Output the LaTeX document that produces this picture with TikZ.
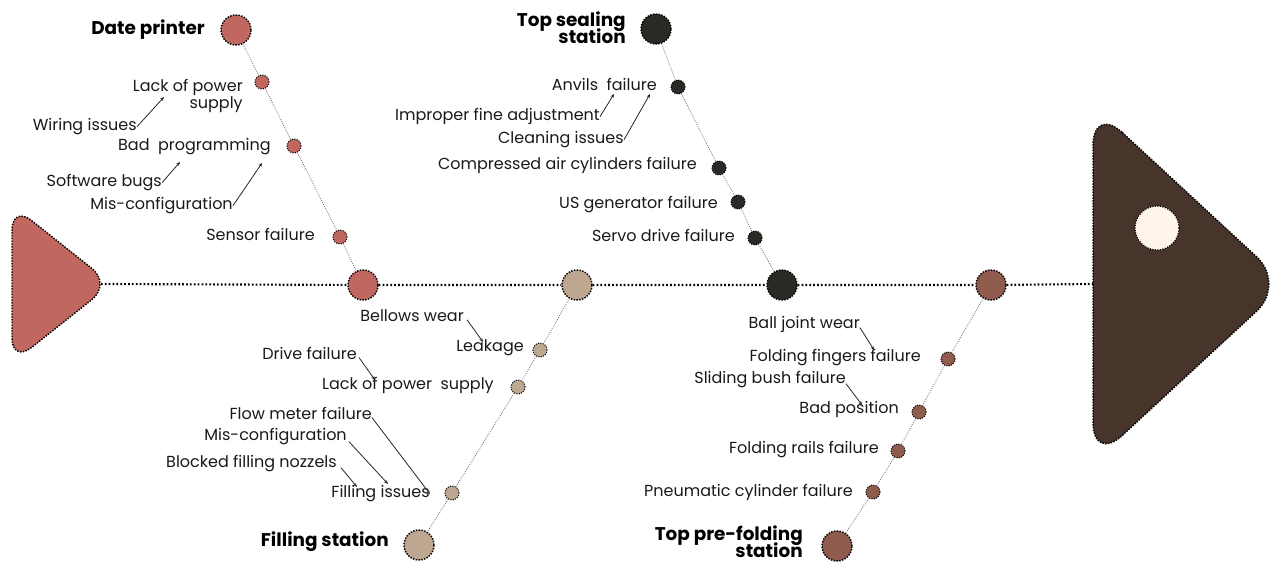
\documentclass[tikz,border=0pt]{standalone}
\usepackage{fontspec}
\setmainfont{Poppins}
\usetikzlibrary{arrows.meta}
\definecolor{rose}{HTML}{C06860}
\definecolor{sand}{HTML}{BEA791}
\definecolor{coal}{HTML}{2A2925}
\definecolor{rust}{HTML}{8E5B4D}
\definecolor{cocoa}{HTML}{47342B}
\definecolor{cream}{HTML}{FFF5EB}
\begin{document}
\begin{tikzpicture}[x=0.75pt,y=-0.75pt,
  big/.style={circle,minimum size=22.5pt,inner sep=0pt,draw=black,line width=1.1pt,densely dotted},
  small/.style={circle,minimum size=10.5pt,inner sep=0pt,draw=black,line width=0.8pt,densely dotted},
  spine/.style={draw=black,line width=1.6pt,dash pattern=on 1.3pt off 1.6pt},
  branch/.style={draw=black!60,line width=0.6pt,densely dotted},
  lbl/.style={font=\fontsize{12}{13}\selectfont,inner sep=0pt,anchor=mid east,text=black!90},
  head/.style={font=\fontsize{13.8}{13.5}\selectfont\bfseries,inner sep=0pt,anchor=mid east,align=right},
  link/.style={draw=black!85,line width=0.6pt,-{Stealth[length=3pt,width=2.5pt]}},
  outline/.style={draw=black,line width=1.1pt,densely dotted}]
\useasboundingbox (0,0) rectangle (1273,563);

% tail and head of the fish
\fill[rose,rounded corners=18.75pt] (12,205) -- (111.5,284) -- (12,363) -- cycle;
\draw[outline,rounded corners=18.75pt] (12,205) -- (111.5,284) -- (12,363) -- cycle;
\fill[cocoa,rounded corners=30pt] (1093,105.5) -- (1286,284) -- (1093,462.5) -- cycle;
\draw[outline,rounded corners=30pt] (1093,105.5) -- (1286,284) -- (1093,462.5) -- cycle;
\node[circle,minimum size=33pt,inner sep=0pt,fill=cream,draw=black,line width=0.9pt,densely dotted] (eye) at (1157,228) {};
\coordinate (tailtip) at (101,284);
\coordinate (headback) at (1093,284);

% junctions on the spine
\node[big,fill=rose] (dpj) at (363,285) {};
\node[big,fill=sand] (fsj) at (577,285) {};
\node[big,fill=coal] (tsj) at (782,285) {};
\node[big,fill=rust] (pfj) at (991,285) {};
\draw[spine] (tailtip) -- (dpj) -- (fsj) -- (tsj) -- (pfj) -- (headback);

% category end points
\node[big,fill=rose] (dp) at (236,30) {};
\node[big,fill=coal] (ts) at (656,29) {};
\node[big,fill=sand] (fs) at (419,545) {};
\node[big,fill=rust] (pf) at (837,546) {};

% cause dots
\node[small,fill=rose] (dp1) at (262,82) {};
\node[small,fill=rose] (dp2) at (294,146) {};
\node[small,fill=rose] (dp3) at (340,237) {};
\node[small,fill=coal] (ts1) at (678,87) {};
\node[small,fill=coal] (ts2) at (719,168) {};
\node[small,fill=coal] (ts3) at (738,202) {};
\node[small,fill=coal] (ts4) at (755,238) {};
\node[small,fill=sand] (fs1) at (540,350) {};
\node[small,fill=sand] (fs2) at (518,387) {};
\node[small,fill=sand] (fs3) at (452,493) {};
\node[small,fill=rust] (pf1) at (948,359) {};
\node[small,fill=rust] (pf2) at (919,412) {};
\node[small,fill=rust] (pf3) at (898,451) {};
\node[small,fill=rust] (pf4) at (873,492) {};

% bones
\draw[branch] (dp) -- (dp1) -- (dp2) -- (dp3) -- (dpj);
\draw[branch] (ts) -- (ts1) -- (ts2) -- (ts3) -- (ts4) -- (tsj);
\draw[branch] (fsj) -- (fs1) -- (fs2) -- (fs3) -- (fs);
\draw[branch] (pfj) -- (pf1) -- (pf2) -- (pf3) -- (pf4) -- (pf);

% category titles (two-line ones use a tight line step)
\node[head] (tdp) at (205,31) {Date printer};
\node[head,anchor=east] (tts) at (626,28) {Top sealing\\[-3pt]station};
\node[head] (tfs) at (389,543) {Filling station};
\node[head,anchor=east] (tpf) at (803,542) {Top pre-folding\\[-3pt]station};

% Date printer causes
\node[lbl,align=right,anchor=east] (c1) at (243,96) {Lack of power\\supply};
\node[lbl] (c1a) at (137,127) {Wiring issues};
\node[lbl] (c2) at (271,147) {Bad\ \ programming};
\node[lbl] (c2a) at (162,183) {Software bugs};
\node[lbl] (c2b) at (233,206) {Mis-configuration};
\node[lbl] (c3) at (315,237) {Sensor failure};
\coordinate (a1) at (164,97);
\coordinate (a2) at (180,162);
\coordinate (a3) at (262,163);
\draw[link] (c1a.east) -- (a1);
\draw[link] (c2a.east) -- (a2);
\draw[link] (c2b.east) -- (a3);

% Top sealing causes
\node[lbl] (s1) at (657,87) {Anvils\ \ failure};
\node[lbl] (s1a) at (600,117) {Improper fine adjustment};
\node[lbl] (s1b) at (624,140) {Cleaning issues};
\node[lbl] (s2) at (697,166) {Compressed air cylinders failure};
\node[lbl] (s3) at (718,205) {US generator failure};
\node[lbl] (s4) at (735,238) {Servo drive failure};
\coordinate (b1) at (614,94);
\coordinate (b2) at (650,94);
\draw[link] (s1a.east) -- (b1);
\draw[link] (s1b.east) -- (b2);

% Filling station causes
\node[lbl] (f1a) at (464,318) {Bellows wear};
\node[lbl] (f1) at (524,348) {Leakage};
\node[lbl] (f2a) at (357,356) {Drive failure};
\node[lbl] (f2) at (494,386) {Lack of power\ \ supply};
\node[lbl] (f3a) at (372,416) {Flow meter failure};
\node[lbl] (f3b) at (347,437) {Mis-configuration};
\node[lbl] (f3c) at (337,464) {Blocked filling nozzels};
\node[lbl] (f3) at (430,494) {Filling issues};
\coordinate (g1) at (483,342);
\coordinate (g2) at (375,380);
\coordinate (g3) at (430,494);
\coordinate (g4) at (388,484);
\coordinate (g5) at (357,487);
\draw[link] (f1a.east) ++(3,4) -- (g1);
\draw[link] (f2a.east) ++(2,4) -- (g2);
\draw[link] (f3a.east) ++(0,4) -- (g3);
\draw[link] (f3b.east) ++(2,5) -- (g4);
\draw[link] (f3c.east) ++(4,4) -- (g5);

% Top pre-folding causes
\node[lbl] (p1a) at (860,325) {Ball joint wear};
\node[lbl] (p1) at (921,358) {Folding fingers failure};
\node[lbl] (p2a) at (846,380) {Sliding bush failure};
\node[lbl] (p2) at (899,410) {Bad position};
\node[lbl] (p3) at (879,450) {Folding rails failure};
\node[lbl] (p4) at (853,493) {Pneumatic cylinder failure};
\coordinate (h1) at (874,350);
\coordinate (h2) at (862,405);
\draw[link] (p1a.east) ++(0,3) -- (h1);
\draw[link] (p2a.east) ++(0,4) -- (h2);
\end{tikzpicture}
\end{document}
